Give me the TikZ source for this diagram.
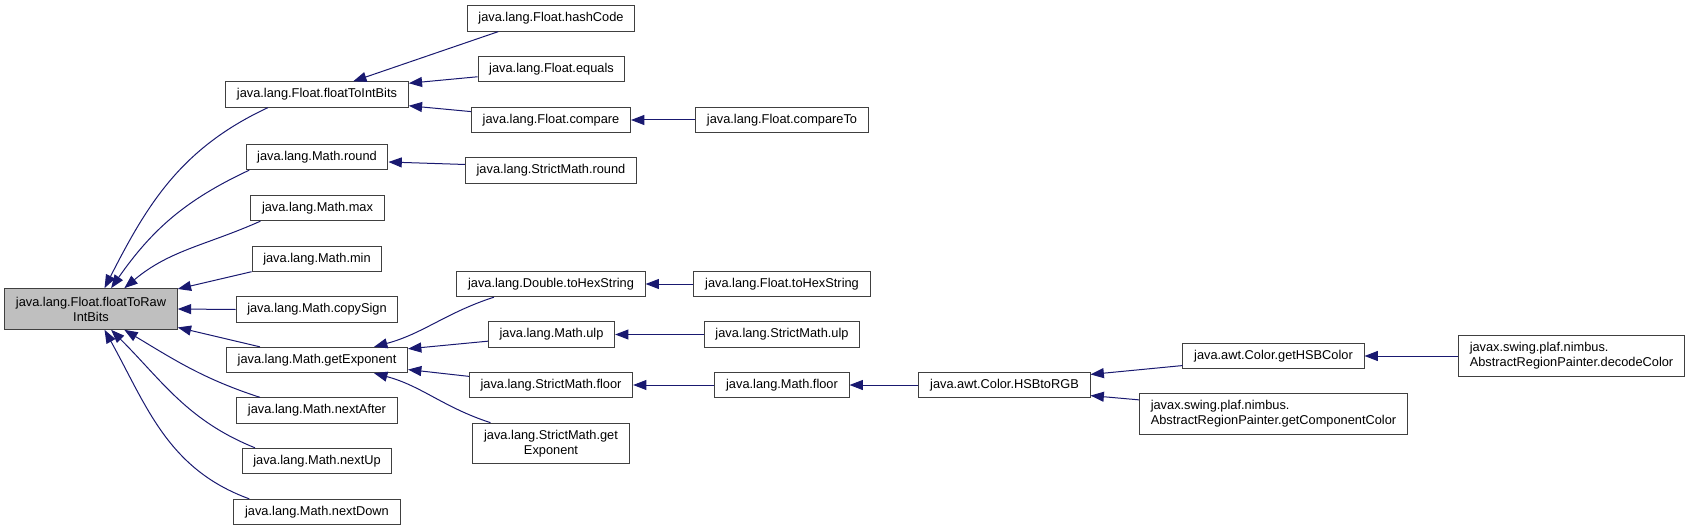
\documentclass[tikz,border=0pt]{standalone}
\usepackage{fontspec}
\setmainfont{Liberation Sans}
\usetikzlibrary{arrows.meta}

\begin{document}
\begin{tikzpicture}[x=0.75pt,y=-0.75pt,
        fn/.style={draw=boxline,line width=0.75pt,fill=white,
            font=\fontsize{9.6}{11.25}\selectfont,
            inner xsep=8.4pt,inner ysep=2pt,minimum height=19pt,align=center},
        fntwo/.style={fn,minimum height=30.5pt},
        call/.style={edgeblue,line width=0.75pt,-{Triangle[length=10pt,width=7.5pt]}}]
        %colores
        \definecolor{edgeblue}{HTML}{191970}
        \definecolor{boxline}{HTML}{404040}
        \definecolor{rootgray}{HTML}{BFBFBF}
        \useasboundingbox (0,0) rectangle (1691,531);

        % Raiz
        \node[fntwo,fill=rootgray] (root) at (91,309) {java.lang.Float.floatToRaw\\IntBits};

        % Segunda columna
        \node[fn] (f2i) at (317,94.5) {java.lang.Float.floatToIntBits};
        \node[fn] (mround) at (317,157) {java.lang.Math.round};
        \node[fn] (mmax) at (317.5,208) {java.lang.Math.max};
        \node[fn] (mmin) at (317,259) {java.lang.Math.min};
        \node[fn] (msign) at (317,309.5) {java.lang.Math.copySign};
        \node[fn] (mexp) at (317,360) {java.lang.Math.getExponent};
        \node[fn] (mafter) at (317,410.5) {java.lang.Math.nextAfter};
        \node[fn] (mup) at (317,461) {java.lang.Math.nextUp};
        \node[fn] (mdown) at (317,512) {java.lang.Math.nextDown};

        % Tercera columna
        \node[fn] (fhash) at (551,18.5) {java.lang.Float.hashCode};
        \node[fn] (fequals) at (551.5,69) {java.lang.Float.equals};
        \node[fn] (fcmp) at (551,120) {java.lang.Float.compare};
        \node[fn] (sround) at (551,170.5) {java.lang.StrictMath.round};
        \node[fn] (dhex) at (551,284) {java.lang.Double.toHexString};
        \node[fn] (mulp) at (551.5,334.5) {java.lang.Math.ulp};
        \node[fn] (sfloor) at (551,385) {java.lang.StrictMath.floor};
        \node[fntwo] (sexp) at (551,443.5) {java.lang.StrictMath.get\\Exponent};

        % Resto
        \node[fn] (fcmpto) at (782,120) {java.lang.Float.compareTo};
        \node[fn] (fhex) at (782,284) {java.lang.Float.toHexString};
        \node[fn] (sulp) at (782,334.5) {java.lang.StrictMath.ulp};
        \node[fn] (mfloor) at (782,385) {java.lang.Math.floor};
        \node[fn] (hsbrgb) at (1004.5,385) {java.awt.Color.HSBtoRGB};
        \node[fn] (gethsb) at (1273.5,356) {java.awt.Color.getHSBColor};
        \node[fntwo,align=left] (getcomp) at (1273.5,414) {javax.swing.plaf.nimbus.\\AbstractRegionPainter.getComponentColor};
        \node[fntwo,align=left] (decode) at (1571.5,356) {javax.swing.plaf.nimbus.\\AbstractRegionPainter.decodeColor};

        % Llamadas hacia la raiz
        \draw[call] (f2i.195) to[out=205,in=63] (root.57);
        \draw[call] (mround.191) to[out=205,in=55] (root.46);
        \draw[call] (mmax.193) to[out=204,in=40] (root.32);
        \draw[call] (mmin.191) -- (root.13);
        \draw[call] (msign.west) -- (root.east);
        \draw[call] (mexp.167) -- (root.-12);
        \draw[call] (mafter.167) to[out=162,in=-31] (root.-32);
        \draw[call] (mup.168) to[out=158,in=-45] (root.-46);
        \draw[call] (mdown.169) to[out=160,in=-61] (root.-57);

        % Llamadas intermedias
        \draw[call] (fhash.194) -- (f2i.20);
        \draw[call] (fequals.186) -- (f2i.7);
        \draw[call] (fcmp.174) -- (f2i.-7);
        \draw[call] (fcmpto) -- (fcmp);
        \draw[call] (sround.176) -- (mround.-4);
        \draw[call] (dhex.193) to[out=198,in=15] (mexp.13);
        \draw[call] (mulp.186) -- (mexp.7);
        \draw[call] (sfloor.174) -- (mexp.-6);
        \draw[call] (sexp.161) to[out=162,in=-15] (mexp.-13);
        \draw[call] (fhex) -- (dhex);
        \draw[call] (sulp) -- (mulp);
        \draw[call] (mfloor) -- (sfloor);
        \draw[call] (hsbrgb) -- (mfloor);
        \draw[call] (gethsb.186) -- (hsbrgb.7);
        \draw[call] (getcomp.174) -- (hsbrgb.-7);
        \draw[call] (decode) -- (gethsb);
    \end{tikzpicture}
\end{document}
